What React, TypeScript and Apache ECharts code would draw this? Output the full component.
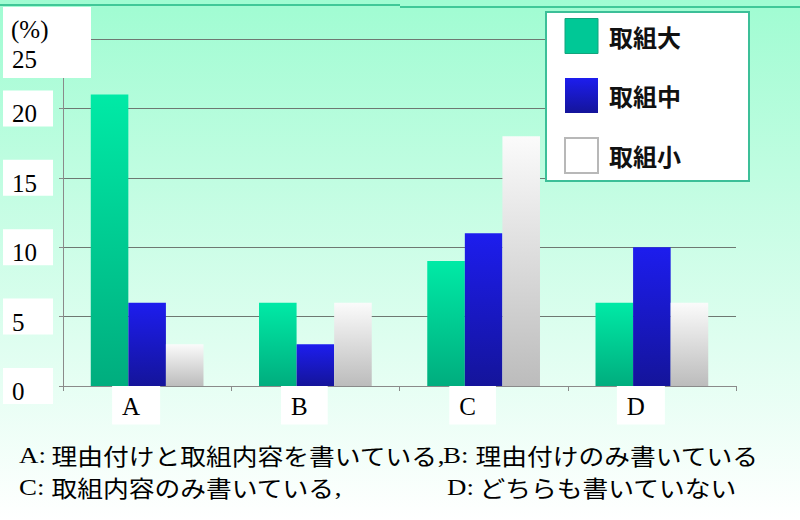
import React, { useEffect, useRef } from "react";
import * as echarts from "echarts";

const categories = ["A", "B", "C", "D"];
const seriesNames = ["取組大", "取組中", "取組小"];
const bigValues = [21, 6, 9, 6];
const midValues = [6, 3, 11, 10];
const smallValues = [3, 6, 18, 6];
const yMin = 0;
const yMax = 25;
const yInterval = 5;
const unitLabel = "(%)";
const captionRows = [
  [
    { key: "A:", text: "理由付けと取組内容を書いている", tail: "," },
    { key: "B:", text: "理由付けのみ書いている", tail: "" },
  ],
  [
    { key: "C:", text: "取組内容のみ書いている", tail: "," },
    { key: "D:", text: "どちらも書いていない", tail: "" },
  ],
];

const SERIF = "'Liberation Serif', 'Times New Roman', serif";
const JP = "'Noto Sans CJK JP', 'Noto Sans', sans-serif";

export default function App() {
  const ref = useRef<HTMLDivElement>(null);

  useEffect(() => {
    if (!ref.current) return;
    const chart = echarts.init(ref.current, undefined, { renderer: "svg" });
    const LG = echarts.graphic.LinearGradient;
    const green = new LG(0, 0, 0, 1, [
      { offset: 0, color: "#00eaa6" },
      { offset: 1, color: "#00ad7e" },
    ]);
    const blue = new LG(0, 0, 0, 1, [
      { offset: 0, color: "#1d1dee" },
      { offset: 1, color: "#14149a" },
    ]);
    const gray = new LG(0, 0, 0, 1, [
      { offset: 0, color: "#fbfbfb" },
      { offset: 1, color: "#bcbcbc" },
    ]);
    const colors = [green, blue, gray];
    const values = [bigValues, midValues, smallValues];

    const captionX = [[19, 443], [19, 447]];
    const captionY = [455, 487];
    const captionEls: any[] = [];
    captionRows.forEach((row, r) => {
      row.forEach((seg, c) => {
        captionEls.push({
          type: "text",
          x: captionX[r][c],
          y: captionY[r],
          scaleX: 1.12,
          z: 10,
          style: {
            text: `{h|${seg.key}}{j|${seg.text}}` + (seg.tail ? `{k|${seg.tail}}` : ""),
            verticalAlign: "middle",
            fill: "#000",
            rich: {
              h: { fontFamily: SERIF, fontSize: 24, fill: "#000", width: 29 },
              k: { fontFamily: SERIF, fontSize: 24, fill: "#000" },
              j: { fontFamily: JP, fontSize: 23, fill: "#000" },
            },
          },
        });
      });
    });

    chart.setOption({
      animation: false,
      backgroundColor: new LG(0, 0, 0, 1, [
        { offset: 0, color: "#a0fcd2" },
        { offset: 1, color: "#ffffff" },
      ]),
      grid: { left: 63, right: 64, top: 39, bottom: 134, outerBoundsMode: "none" },
      legend: {
        orient: "vertical",
        left: 546,
        top: 12,
        padding: [6, 68, 7, 18],
        itemWidth: 33,
        itemHeight: 35,
        itemGap: 24,
        icon: "rect",
        backgroundColor: "#ffffff",
        borderColor: "#3cbf98",
        borderWidth: 2,
        textStyle: { fontFamily: JP, fontSize: 24, fontWeight: "bold", color: "#111", padding: [0, 0, 0, 6] },
        data: [
          { name: seriesNames[0], itemStyle: { color: "#00c896", borderColor: "#12a47c", borderWidth: 1 } },
          { name: seriesNames[1], itemStyle: { color: blue } },
          { name: seriesNames[2], itemStyle: { color: "#ffffff", borderColor: "#b8b8b8", borderWidth: 2 } },
        ],
      },
      xAxis: {
        type: "category",
        data: categories,
        axisLine: { lineStyle: { color: "#8a8a8a", width: 1 } },
        axisTick: { show: true, length: 5, lineStyle: { color: "#8a8a8a" } },
        axisLabel: {
          interval: 0,
          margin: 7,
          formatter: (v: string) => `{b|${v}}{s| }`,
          rich: {
            b: {
              fontFamily: SERIF,
              fontSize: 25,
              lineHeight: 24,
              color: "#000",
              backgroundColor: "#ffffff",
              padding: [8, 20, 6, 10],
            },
            s: { width: 22, fontSize: 10 },
          },
        },
      },
      yAxis: [
        {
          type: "value",
          min: yMin,
          max: yMax,
          interval: yInterval,
          position: "left",
          axisLine: { show: true, lineStyle: { color: "#8a8a8a", width: 1 } },
          axisTick: { show: true, length: 4, lineStyle: { color: "#8a8a8a" } },
          axisLabel: { show: false },
          splitLine: { show: true, lineStyle: { color: "#6e7872", width: 1 } },
        },
        {
          type: "value",
          min: yMin,
          max: yMax,
          interval: yInterval,
          position: "left",
          z: 5,
          axisLine: { show: false },
          axisTick: { show: false },
          splitLine: { show: false },
          axisLabel: {
            align: "left",
            margin: 60,
            formatter: (v: number) => (v === yMax ? `{t|${v}}` : `{n|${v}}`),
            rich: {
              n: {
                fontFamily: SERIF,
                fontSize: 25,
                lineHeight: 22,
                width: 28,
                color: "#000",
                backgroundColor: "#ffffff",
                padding: [11, 13, 0, 9],
              },
              t: {
                fontFamily: SERIF,
                fontSize: 25,
                lineHeight: 22,
                color: "#000",
                padding: [40, 0, 0, 9],
              },
            },
          },
        },
      ],
      graphic: [
        { type: "line", z: 1, shape: { x1: 0, y1: 5, x2: 400, y2: 5 }, style: { stroke: "#40c898", lineWidth: 2 } },
        { type: "line", z: 1, shape: { x1: 400, y1: 7, x2: 800, y2: 7 }, style: { stroke: "#40c898", lineWidth: 2 } },
        { type: "rect", z: 3, shape: { x: 3, y: 7, width: 88, height: 71 }, style: { fill: "#ffffff" } },
        {
          type: "text",
          z: 6,
          x: 11,
          y: 29,
          style: { text: unitLabel, fontFamily: SERIF, fontSize: 25, fill: "#000", verticalAlign: "middle" },
        },
        ...captionEls,
      ],
      series: seriesNames.map((name, i) => ({
        name,
        type: "bar",
        yAxisIndex: 0,
        data: values[i],
        barGap: "0%",
        barCategoryGap: "33%",
        itemStyle: { color: colors[i] },
      })),
    });
    return () => chart.dispose();
  }, []);

  return (
    <div
      ref={ref}
      style={{ position: "absolute", left: 0, top: 0, width: 800, height: 520 }}
    />
  );
}
